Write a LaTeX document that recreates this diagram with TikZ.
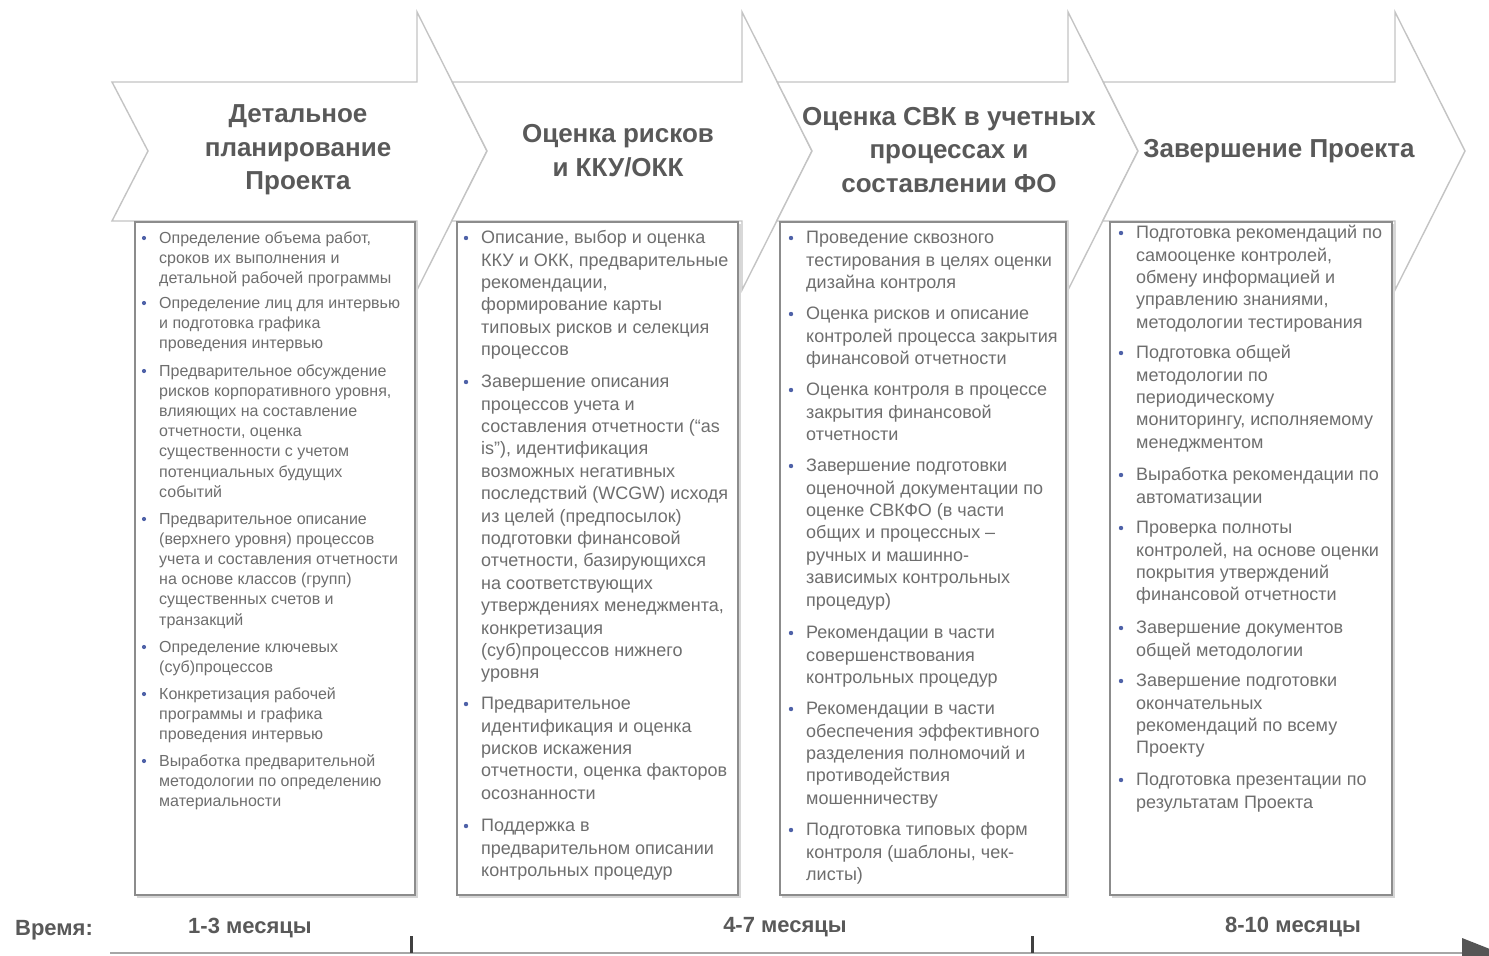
\documentclass[tikz,border=0pt]{standalone}
\usepackage{fontspec}
\setmainfont{Liberation Sans}
\usetikzlibrary{arrows.meta}
\definecolor{arrowgray}{HTML}{C4C4C4}
\definecolor{boxgray}{HTML}{8C8C8C}
\definecolor{shadowgray}{HTML}{D6D6D6}
\definecolor{bodytext}{HTML}{6E6E6E}
\definecolor{headtext}{HTML}{595959}
\definecolor{bulletblue}{HTML}{4F62A8}
\definecolor{tickgray}{HTML}{404040}
\definecolor{linegray}{HTML}{A6A6A6}
\definecolor{tipgray}{HTML}{555555}
\tikzset{
  chevron/.style={draw=arrowgray, fill=white, line width=1.4pt, line join=miter},
  boxshadow/.style={fill=shadowgray, draw=none},
  colbox/.style={draw=boxgray, fill=white, line width=1.2pt},
  heading/.style={align=center, inner sep=0pt, text=headtext, font=\bfseries\fontsize{26}{33.5}\selectfont},
  smalltxt/.style={anchor=north west, inner sep=0pt, align=left, text=bodytext, font=\fontsize{16}{20.2}\selectfont},
  bigtxt/.style={anchor=north west, inner sep=0pt, align=left, text=bodytext, font=\fontsize{18}{22.4}\selectfont},
  bulletdot/.style={fill=bulletblue},
  tlabel/.style={inner sep=0pt, text=headtext, font=\bfseries\fontsize{22}{26}\selectfont},
  tline/.style={draw=linegray, line width=2pt},
  tickmark/.style={draw=tickgray, line width=3pt},
}
\begin{document}
\begin{tikzpicture}[x=1pt,y=-1pt]
\useasboundingbox (0,0) rectangle (1489,956);
\fill[white] (0,0) rectangle (1489,956);

% chevrons
\draw[chevron] (112,82) -- (417,82) -- (417,12) -- (487,151) -- (417,290) -- (417,221) -- (112,221) -- (148,151) -- cycle;
\draw[chevron] (452.3,82) -- (742,82) -- (742,12) -- (812,151) -- (742,290) -- (742,221) -- (451.7,221) -- (487,151) -- cycle;
\draw[chevron] (777.3,82) -- (1068,82) -- (1068,12) -- (1138,151) -- (1068,290) -- (1068,221) -- (776.7,221) -- (812,151) -- cycle;
\draw[chevron] (1103.3,82) -- (1395,82) -- (1395,12) -- (1465,151) -- (1395,290) -- (1395,221) -- (1102.7,221) -- (1138,151) -- cycle;

% headings
\node[heading] (h1) at (298,150) {Детальное\\планирование\\Проекта};
\node[heading] (h2) at (618,150.5) {Оценка рисков\\и ККУ/ОКК};
\node[heading] (h3) at (949,150) {Оценка СВК в учетных\\процессах и\\составлении ФО};
\node[heading] (h4) at (1279,151) {Завершение Проекта};

% boxes
\fill[boxshadow] (137,224) rectangle (418,898);
\fill[boxshadow] (459,224) rectangle (741,898);
\fill[boxshadow] (782,224) rectangle (1069,898);
\fill[boxshadow] (1112,224) rectangle (1395,898);
\draw[colbox] (135,222) rectangle (415,895);
\draw[colbox] (457,222) rectangle (738,895);
\draw[colbox] (780,222) rectangle (1066,895);
\draw[colbox] (1110,222) rectangle (1392,895);

% column 1
\foreach \yy in {238,303,371,519,647,694,761} \fill[bulletdot] (144,\yy) circle (2.1);
\node[smalltxt] (a1) at (159,228.7) {\strut Определение объема работ,\\сроков их выполнения и\\детальной рабочей программы};
\node[smalltxt] (a2) at (159,293.7) {\strut Определение лиц для интервью\\и подготовка графика\\проведения интервью};
\node[smalltxt] (a3) at (159,361.7) {\strut Предварительное обсуждение\\рисков корпоративного уровня,\\влияющих на составление\\отчетности, оценка\\существенности с учетом\\потенциальных будущих\\событий};
\node[smalltxt] (a4) at (159,509.7) {\strut Предварительное описание\\(верхнего уровня) процессов\\учета и составления отчетности\\на основе классов (групп)\\существенных счетов и\\транзакций};
\node[smalltxt] (a5) at (159,637.7) {\strut Определение ключевых\\(суб)процессов};
\node[smalltxt] (a6) at (159,684.7) {\strut Конкретизация рабочей\\программы и графика\\проведения интервью};
\node[smalltxt] (a7) at (159,751.7) {\strut Выработка предварительной\\методологии по определению\\материальности};

% column 2
\foreach \yy in {238,382,704,826} \fill[bulletdot] (466,\yy) circle (2.2);
\node[bigtxt] (b1) at (481,227.8) {\strut Описание, выбор и оценка\\ККУ и ОКК, предварительные\\рекомендации,\\формирование карты\\типовых рисков и селекция\\процессов};
\node[bigtxt] (b2) at (481,371.8) {\strut Завершение описания\\процессов учета и\\составления отчетности (“as\\is”), идентификация\\возможных негативных\\последствий (WCGW) исходя\\из целей (предпосылок)\\подготовки финансовой\\отчетности, базирующихся\\на соответствующих\\утверждениях менеджмента,\\конкретизация\\(суб)процессов нижнего\\уровня};
\node[bigtxt] (b3) at (481,693.8) {\strut Предварительное\\идентификация и оценка\\рисков искажения\\отчетности, оценка факторов\\осознанности};
\node[bigtxt] (b4) at (481,815.8) {\strut Поддержка в\\предварительном описании\\контрольных процедур};

% column 3
\foreach \yy in {238,314,390,466,633,709,830} \fill[bulletdot] (791,\yy) circle (2.2);
\node[bigtxt] (c1) at (806,227.8) {\strut Проведение сквозного\\тестирования в целях оценки\\дизайна контроля};
\node[bigtxt] (c2) at (806,303.8) {\strut Оценка рисков и описание\\контролей процесса закрытия\\финансовой отчетности};
\node[bigtxt] (c3) at (806,379.8) {\strut Оценка контроля в процессе\\закрытия финансовой\\отчетности};
\node[bigtxt] (c4) at (806,455.8) {\strut Завершение подготовки\\оценочной документации по\\оценке СВКФО (в части\\общих и процессных –\\ручных и машинно-\\зависимых контрольных\\процедур)};
\node[bigtxt] (c5) at (806,622.8) {\strut Рекомендации в части\\совершенствования\\контрольных процедур};
\node[bigtxt] (c6) at (806,698.8) {\strut Рекомендации в части\\обеспечения эффективного\\разделения полномочий и\\противодействия\\мошенничеству};
\node[bigtxt] (c7) at (806,819.8) {\strut Подготовка типовых форм\\контроля (шаблоны, чек-\\листы)};

% column 4
\foreach \yy in {233,353,475,528,628,681,780} \fill[bulletdot] (1121,\yy) circle (2.2);
\node[bigtxt] (d1) at (1136,222.8) {\strut Подготовка рекомендаций по\\самооценке контролей,\\обмену информацией и\\управлению знаниями,\\методологии тестирования};
\node[bigtxt] (d2) at (1136,342.8) {\strut Подготовка общей\\методологии по\\периодическому\\мониторингу, исполняемому\\менеджментом};
\node[bigtxt] (d3) at (1136,464.8) {\strut Выработка рекомендации по\\автоматизации};
\node[bigtxt] (d4) at (1136,517.8) {\strut Проверка полноты\\контролей, на основе оценки\\покрытия утверждений\\финансовой отчетности};
\node[bigtxt] (d5) at (1136,617.8) {\strut Завершение документов\\общей методологии};
\node[bigtxt] (d6) at (1136,670.8) {\strut Завершение подготовки\\окончательных\\рекомендаций по всему\\Проекту};
\node[bigtxt] (d7) at (1136,769.8) {\strut Подготовка презентации по\\результатам Проекта};

% timeline
\coordinate (tlstart) at (110,953);
\coordinate (tlend) at (1462,953);
\coordinate (tltip) at (1500,953);
\draw[tline] (tlstart) -- (tlend);
\fill[tipgray] (1462,938) -- (tltip) -- (1462,968) -- cycle;
\draw[tickmark] (411,936) -- (411,953);
\draw[tickmark] (1032,936) -- (1032,953);
\node[tlabel] (tvr) at (54,930) {Время:};
\node[tlabel] (t1) at (250,928) {1-3 месяцы};
\node[tlabel] (t2) at (785,927) {4-7 месяцы};
\node[tlabel] (t3) at (1293,927) {8-10 месяцы};
\end{tikzpicture}
\end{document}
